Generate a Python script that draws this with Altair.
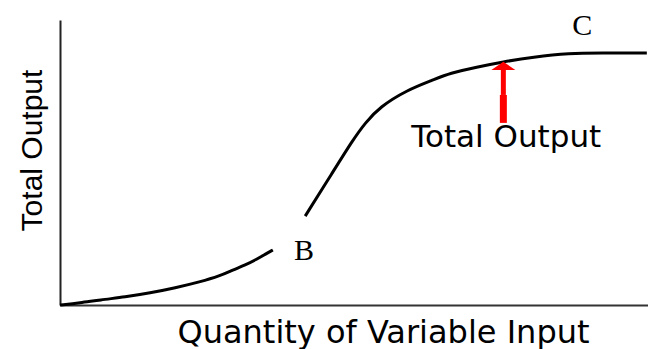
import altair as alt
import pandas as pd

# Total product curve, drawn in two pieces with a gap around point B
lower_x = [0, 3.4, 6.8, 11.1, 15.3, 19.6, 23.8, 27.2, 29.4, 31.5, 33.5, 35.0, 36.2]
lower_y = [0, 0.7, 1.8, 2.8, 4.2, 6.0, 8.1, 10.2, 12.3, 14.0, 16.1, 17.9, 19.3]
upper_x = [41.7, 46.3, 49.8, 51.9, 54.4, 59.0, 63.4, 66.3, 70.9, 75.3, 80.4, 86.7, 91.8, 99.8]
upper_y = [31.2, 46.3, 57.9, 63.9, 69.5, 75.4, 78.9, 81.4, 83.5, 85.3, 87.0, 88.4, 88.4, 88.4]

# Point labels
point_names = ["B", "C"]
point_x = [41.5, 88.8]
point_y = [15.8, 94.7]

# Red arrow pointing at the curve, with its caption
arrow_x = 75.4
arrow_lower = [63.9, 73.7]
arrow_upper = [73.7, 82.8]
arrow_head_y = 83.9
caption = "Total Output"
caption_x = 75.9
caption_y = 55.4

x_title = "Quantity of Variable Input"
y_title = "Total Output"

curve = pd.DataFrame({
    "x": lower_x + upper_x,
    "y": lower_y + upper_y,
    "seg": ["lower"] * len(lower_x) + ["upper"] * len(upper_x),
    "order": list(range(len(lower_x) + len(upper_x))),
})
points = pd.DataFrame({"name": point_names, "x": point_x, "y": point_y})

xs = alt.Scale(domain=[0, 100], nice=False, zero=False)
ys = alt.Scale(domain=[0, 100], nice=False, zero=False)

x_axis = alt.Axis(
    title=x_title, labels=False, ticks=False, grid=False,
    domainColor="#333333", domainWidth=2,
    titleFont="DejaVu Sans", titleFontSize=32, titleFontWeight="normal",
    titleColor="black", titleX=323, titleY=37, titleAlign="center",
    titleBaseline="alphabetic", titleAnchor="middle",
)
y_axis = alt.Axis(
    title=y_title, labels=False, ticks=False, grid=False,
    domainColor="#222222", domainWidth=2,
    titleFont="Liberation Sans", titleFontSize=30, titleFontWeight="normal",
    titleColor="black", titleX=-19, titleY=130, titleAngle=270,
    titleAlign="center", titleBaseline="alphabetic",
)

line = alt.Chart(curve).mark_line(
    color="black", strokeWidth=3, interpolate="basis"
).encode(
    x=alt.X("x:Q", scale=xs, axis=x_axis),
    y=alt.Y("y:Q", scale=ys, axis=y_axis),
    detail="seg:N",
    order="order:Q",
)

labels = alt.Chart(points).mark_text(
    font="Liberation Serif", fontSize=30, color="black",
    align="center", baseline="alphabetic",
).encode(x=alt.X("x:Q", scale=xs), y=alt.Y("y:Q", scale=ys), text="name:N")

shaft_lower = alt.Chart(pd.DataFrame({"x": [arrow_x], "y": [arrow_lower[0]], "y2": [arrow_lower[1]]})).mark_rule(
    color="#ff0000", strokeWidth=7
).encode(x=alt.X("x:Q", scale=xs), y=alt.Y("y:Q", scale=ys), y2="y2:Q")

shaft_upper = alt.Chart(pd.DataFrame({"x": [arrow_x], "y": [arrow_upper[0]], "y2": [arrow_upper[1]]})).mark_rule(
    color="#ff0000", strokeWidth=5
).encode(x=alt.X("x:Q", scale=xs), y=alt.Y("y:Q", scale=ys), y2="y2:Q")

head = alt.Chart(pd.DataFrame({"x": [arrow_x], "y": [arrow_head_y]})).mark_point(
    shape="M -1 0.35 L 0 -0.35 L 1 0.35 Z", size=576, filled=True,
    color="#ff0000", opacity=1, strokeWidth=0,
).encode(x=alt.X("x:Q", scale=xs), y=alt.Y("y:Q", scale=ys))

cap = alt.Chart(pd.DataFrame({"x": [caption_x], "y": [caption_y], "t": [caption]})).mark_text(
    font="DejaVu Sans", fontSize=31, color="black",
    align="center", baseline="alphabetic",
).encode(x=alt.X("x:Q", scale=xs), y=alt.Y("y:Q", scale=ys), text="t:N")

chart = alt.layer(line, shaft_lower, shaft_upper, head, cap, labels).properties(
    width=588, height=285,
    autosize=alt.AutoSizeParams(type="none"),
    padding={"left": 60, "top": 20, "right": 0, "bottom": 44},
    background="white",
).configure_view(stroke=None)

chart.save("out.html", embed_options={"renderer": "svg", "actions": False})
